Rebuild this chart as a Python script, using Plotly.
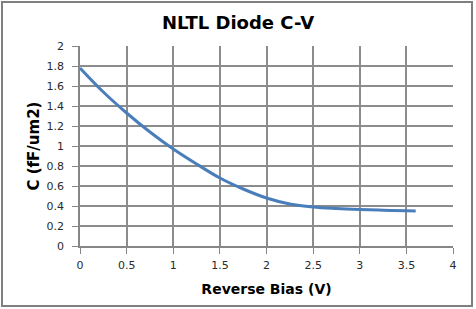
import plotly.graph_objects as go

bias_v = [0.0, 0.25, 0.5, 0.75, 1.0, 1.25, 1.5, 1.75, 2.0, 2.25, 2.5, 2.75, 3.0, 3.25, 3.5, 3.6]
cap_ff_um2 = [1.78, 1.54, 1.33, 1.14, 0.97, 0.82, 0.68, 0.57, 0.48, 0.42, 0.39, 0.375, 0.365, 0.358, 0.352, 0.35]

title_text = "NLTL Diode C-V"
x_title = "Reverse Bias (V)"
y_title = "C (fF/um2)"
x_ticks = [0, 0.5, 1, 1.5, 2, 2.5, 3, 3.5, 4]
y_ticks = [0, 0.2, 0.4, 0.6, 0.8, 1, 1.2, 1.4, 1.6, 1.8, 2]

fig = go.Figure()
fig.add_trace(go.Scatter(x=bias_v, y=cap_ff_um2, mode="lines",
                         line=dict(color="#4A7EBB", width=3, shape="spline"),
                         showlegend=False, hoverinfo="skip"))

axis_common = dict(showgrid=True, gridcolor="#8C8C8C", gridwidth=1.5,
                   showline=True, linecolor="#868686", linewidth=1.5,
                   ticks="outside", ticklen=6, tickcolor="#868686", tickwidth=1,
                   zeroline=False, mirror=False,
                   tickfont=dict(family="DejaVu Sans", size=11, color="#2a2a2a"))

fig.update_layout(
    width=476, height=309,
    margin=dict(l=80, r=23, t=46, b=63),
    paper_bgcolor="white", plot_bgcolor="white",
    title=dict(text=title_text, x=0.5, xanchor="center", y=1 - 23 / 309, yanchor="middle",
               font=dict(family="DejaVu Sans", size=18, color="black", weight="bold")),
    xaxis=dict(range=[0, 4], tickvals=x_ticks, ticktext=[str(t) for t in x_ticks],
               ticklabelstandoff=2,
               title=dict(text=x_title, standoff=13,
                          font=dict(family="DejaVu Sans", size=14, color="black", weight="bold")),
               **axis_common),
    yaxis=dict(range=[0, 2], tickvals=y_ticks, ticktext=[str(t) for t in y_ticks],
               ticklabelstandoff=6,
               **axis_common),
    annotations=[dict(text=y_title, textangle=-90, xref="paper", yref="paper",
                      x=(33 - 80) / 373, y=(246 - 146.5) / 200,
                      xanchor="center", yanchor="middle", showarrow=False,
                      font=dict(family="DejaVu Sans", size=15, color="black", weight="bold"))],
    shapes=[dict(type="rect", xref="paper", yref="paper",
                 x0=(2 - 80) / 373, x1=(472 - 80) / 373,
                 y0=(246 - 306) / 200, y1=(246 - 2) / 200,
                 line=dict(color="#7F7F7F", width=2), layer="below")],
)

fig.write_html("out.html")
